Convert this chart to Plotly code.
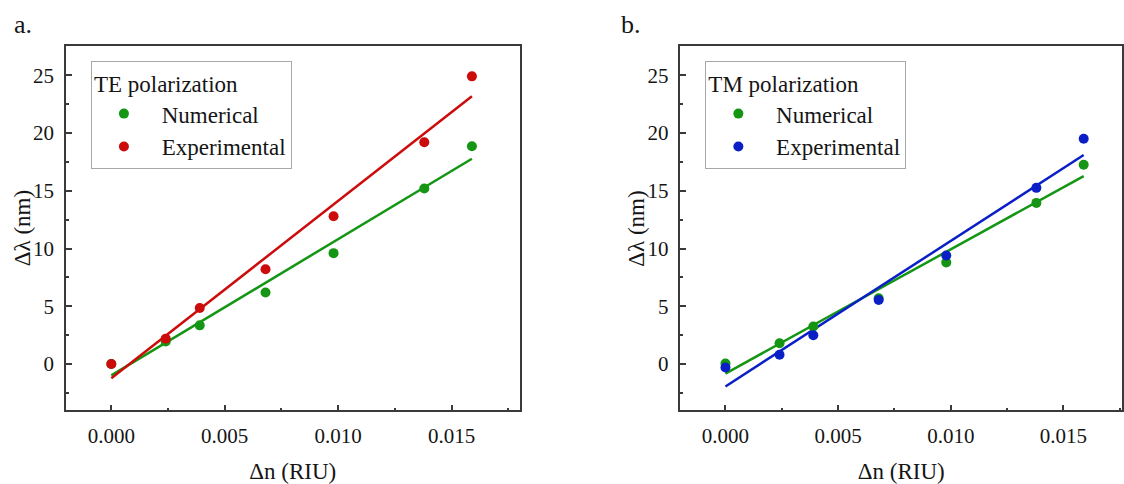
import numpy as np
import plotly.graph_objects as go

# Refractive-index change of the cladding (RIU)
delta_n = [0.0, 0.0024, 0.0039, 0.0068, 0.0098, 0.0138, 0.0159]

# Resonance wavelength shift (nm)
te_numerical = [0.0, 1.95, 3.35, 6.2, 9.6, 15.2, 18.85]
te_experimental = [0.0, 2.2, 4.85, 8.2, 12.8, 19.2, 24.9]
tm_numerical = [0.05, 1.8, 3.25, 5.7, 8.8, 13.95, 17.25]
tm_experimental = [-0.3, 0.8, 2.5, 5.55, 9.4, 15.25, 19.5]

GREEN = "#149614"
RED = "#cc0b0b"
BLUE = "#0b1fc6"
AXIS = "#3a3a3a"
TEXT = "#151515"
FONT = "Liberation Serif"

fig = go.Figure()


def add_series(y, color, name, xaxis, yaxis, legend):
    """Linear least-squares fit line plus the measured points."""
    slope, intercept = np.polyfit(delta_n, y, 1)
    x_fit = [delta_n[0], delta_n[-1]]
    fig.add_trace(go.Scatter(
        x=x_fit, y=[slope * v + intercept for v in x_fit],
        mode="lines", line=dict(color=color, width=2.5),
        xaxis=xaxis, yaxis=yaxis, showlegend=False, hoverinfo="skip",
    ))
    return go.Scatter(
        x=delta_n, y=y, mode="markers", name="\u00a0" + name,
        marker=dict(color=color, size=10, line=dict(width=0)),
        xaxis=xaxis, yaxis=yaxis, legend=legend, legendgroup=xaxis + name,
    )


pts = [
    add_series(te_numerical, GREEN, "Numerical", "x", "y", "legend"),
    add_series(te_experimental, RED, "Experimental", "x", "y", "legend"),
    add_series(tm_numerical, GREEN, "Numerical", "x2", "y2", "legend2"),
    add_series(tm_experimental, BLUE, "Experimental", "x2", "y2", "legend2"),
]
for p in pts:
    fig.add_trace(p)

W, H = 1124, 484
y_dom = [(H - 412) / H, (H - 46.5) / H]


def xaxis_style(domain, rng):
    return dict(
        domain=domain, range=rng, tick0=0, dtick=0.005, tickformat=".3f",
        ticks="inside", ticklen=6, tickwidth=1.5, tickcolor=AXIS,
        showline=True, linecolor=AXIS, linewidth=1.5, mirror=True,
        showgrid=False, zeroline=False, ticklabelstandoff=6,
        tickfont=dict(size=21, family=FONT, color=TEXT),
        minor=dict(tick0=0, dtick=0.0025, ticks="inside", ticklen=3,
                   tickwidth=1.5, tickcolor=AXIS, showgrid=False),
        title=dict(text="Δn (RIU)", standoff=20,
                   font=dict(size=23, family=FONT, color=TEXT)),
    )


def yaxis_style(anchor):
    return dict(
        domain=y_dom, range=[-4, 27.5], tick0=0, dtick=5, anchor=anchor,
        ticks="inside", ticklen=6, tickwidth=1.5, tickcolor=AXIS,
        showline=True, linecolor=AXIS, linewidth=1.5, mirror=True,
        showgrid=False, zeroline=False, ticklabelstandoff=6,
        tickfont=dict(size=21, family=FONT, color=TEXT),
        minor=dict(tick0=0, dtick=2.5, ticks="inside", ticklen=3,
                   tickwidth=1.5, tickcolor=AXIS, showgrid=False),
    )


def legend_style(x, title):
    return dict(
        x=x, y=1 - 61.5 / H, xanchor="left", yanchor="top",
        bgcolor="white", bordercolor="#a8a8a8", borderwidth=1,
        font=dict(size=23, family=FONT, color=TEXT),
        title=dict(text=title, font=dict(size=23, family=FONT, color=TEXT)),
        itemwidth=54, tracegroupgap=0,
    )


def y_title(x_px):
    return dict(text="Δλ (nm)", x=x_px / W, y=sum(y_dom) / 2,
                xref="paper", yref="paper", xanchor="center", yanchor="middle",
                textangle=-90, showarrow=False,
                font=dict(size=23, family=FONT, color=TEXT))


def panel_tag(text, x_px):
    return dict(text=text, x=x_px / W, y=1 - 25 / H, xref="paper", yref="paper",
                xanchor="left", yanchor="middle", showarrow=False,
                font=dict(size=26, family=FONT, color=TEXT))


fig.update_layout(
    width=W, height=H, margin=dict(l=0, r=0, t=0, b=0),
    paper_bgcolor="white", plot_bgcolor="white",
    font=dict(family=FONT, size=21, color=TEXT),
    xaxis=dict(anchor="y", **xaxis_style([66 / W, 520 / W], [-0.002, 0.018])),
    yaxis=yaxis_style("x"),
    xaxis2=dict(anchor="y2", **xaxis_style([681 / W, 1123 / W], [-0.002, 0.0176])),
    yaxis2=yaxis_style("x2"),
    legend=legend_style(91 / W, "TE polarization"),
    legend2=legend_style(706 / W, "TM polarization"),
    annotations=[
        y_title(22), y_title(637),
        panel_tag("a.", 12), panel_tag("b.", 620),
    ],
)

fig.write_html("out.html")
